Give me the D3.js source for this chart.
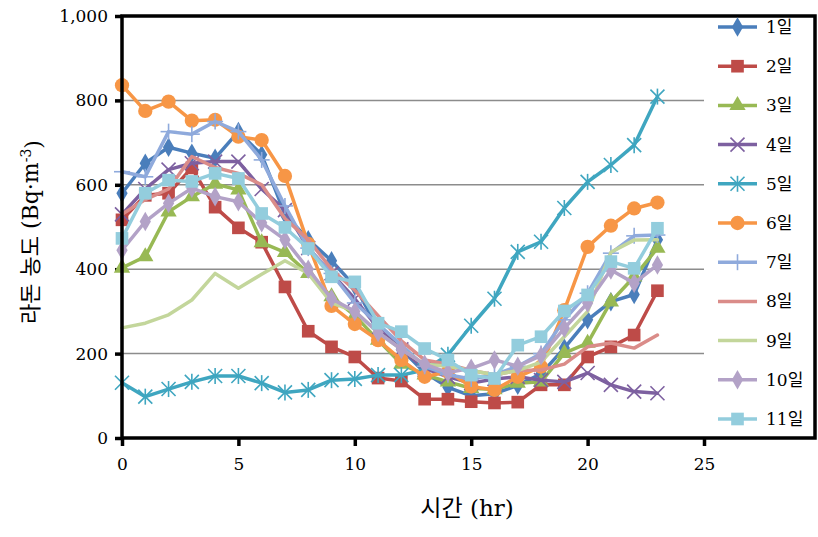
<!DOCTYPE html>
<html><head><meta charset="utf-8">
<script src="https://cdn.jsdelivr.net/npm/d3@7"></script>
<style>body{margin:0;background:#fff}svg{display:block}</style>
</head><body>
<svg id="c" width="818" height="537"></svg>
<script>
const hours = d3.range(0, 24);
const seriesNames = ["1일","2일","3일","4일","5일","6일","7일","8일","9일","10일","11일"];
const day1  = [580,651,689,675,663,726,671,530,470,420,360,260,210,155,120,100,105,125,152,213,280,323,340,470];
const day2  = [517,575,580,640,547,498,464,358,253,216,192,142,135,92,92,86,83,85,126,126,192,216,244,349];
const day3  = [403,430,536,572,602,588,463,440,390,335,290,232,175,150,133,118,115,130,133,201,225,323,382,450];
const day4  = [530,590,636,651,655,655,590,540,450,390,330,260,210,165,145,130,140,145,137,133,154,126,110,106];
const day5  = [131,98,116,133,147,147,130,108,114,137,140,149,149,161,197,266,330,441,465,545,607,647,694,809];
const day6  = [836,775,797,752,754,714,706,621,460,313,270,232,185,145,157,122,114,145,169,303,453,503,544,558];
const day7  = [631,619,726,720,750,726,659,550,450,390,320,270,220,170,150,140,150,170,200,280,343,438,479,481];
const day8  = [530,565,590,667,641,627,600,520,470,400,350,290,230,185,175,160,150,160,161,175,216,225,213,244];
const day9  = [261,272,292,327,390,355,388,420,390,320,300,250,210,175,170,160,150,160,180,240,300,440,469,470];
const day10 = [445,513,556,592,572,560,510,470,400,330,300,250,210,175,155,165,185,170,195,260,320,398,367,410];
const day11 = [473,580,611,608,627,615,532,499,449,382,370,272,252,212,185,149,141,220,240,301,339,418,402,497];
const seriesValues = [day1,day2,day3,day4,day5,day6,day7,day8,day9,day10,day11];
const colors = ["#4a7ebb","#be4b48","#98b954","#7d60a0","#3fa6c0","#f79646","#8faadc","#da8c89","#c3d69b","#b3a2c7","#93cddd"];
const markers = ["diamond","square","triangle","x","asterisk","circle","plus","none","none","diamond","square"];
const xTicks = [0,5,10,15,20,25];
const yTicks = [0,200,400,600,800,1000];

const svg = d3.select("#c");
const L = 122, T = 16, B = 438, R = 815, XR = 704;
const x = d3.scaleLinear().domain([0,25]).range([L, XR]);
const y = d3.scaleLinear().domain([0,1000]).range([B, T]);

svg.append("g").selectAll("line").data(yTicks.filter(v=>v>0&&v<1000)).join("line")
  .attr("x1", L).attr("x2", XR).attr("y1", d=>y(d)).attr("y2", d=>y(d))
  .attr("stroke", "#8c8c8c").attr("stroke-width", 1.5);

const serif = "'DejaVu Serif','Liberation Serif',serif";
const kserif = "'DejaVu Serif','Noto Sans CJK KR',serif";
const yAxis = d3.axisLeft(y).tickValues(yTicks).tickSize(7).tickPadding(7).tickFormat(d3.format(","));
const gy = svg.append("g").attr("transform", `translate(${L},0)`).call(yAxis);
const xAxis = d3.axisBottom(x).tickValues(xTicks).tickSize(8).tickPadding(12).tickFormat(d3.format("d"));
const gx = svg.append("g").attr("transform", `translate(0,${B})`).call(xAxis);
[gy, gx].forEach(g => {
  g.select(".domain").remove();
  g.selectAll(".tick line").attr("stroke", "#000").attr("stroke-width", 3.5);
  g.selectAll(".tick text").attr("fill", "#000").style("font-family", serif).style("font-size", "17px");
});

const line = d3.line().x((d,i)=>x(hours[i])).y(d=>y(d));
const sym = {
  diamond: d3.symbol().type(d3.symbolDiamond).size(110),
  square: d3.symbol().type(d3.symbolSquare).size(160),
  triangle: d3.symbol().type(d3.symbolTriangle).size(115),
  circle: d3.symbol().type(d3.symbolCircle).size(160)
};
function drawMarker(g, type, cx, cy, color) {
  if (type === "none") return;
  if (sym[type]) {
    g.append("path").attr("d", sym[type]()).attr("transform", `translate(${cx},${cy})`).attr("fill", color);
  } else {
    const s = 7;
    let segs = [];
    if (type === "x" || type === "asterisk") segs.push([-s,-s,s,s],[-s,s,s,-s]);
    if (type === "asterisk") segs.push([0,-s-1,0,s+1]);
    if (type === "plus") segs.push([-s-1,0,s+1,0],[0,-s-1,0,s+1]);
    segs.forEach(q => g.append("line").attr("x1", cx+q[0]).attr("y1", cy+q[1]).attr("x2", cx+q[2]).attr("y2", cy+q[3])
      .attr("stroke", color).attr("stroke-width", 1.6));
  }
}
seriesValues.forEach((vals, k) => {
  const g = svg.append("g");
  g.append("path").attr("d", line(vals)).attr("fill", "none").attr("stroke", colors[k])
    .attr("stroke-width", 3.5).attr("stroke-linejoin", "round").attr("stroke-linecap", "round");
  vals.forEach((v,i) => drawMarker(g, markers[k], x(hours[i]), y(v), colors[k]));
});

svg.append("rect").attr("x", L).attr("y", T).attr("width", R-L).attr("height", B-T)
  .attr("fill", "none").attr("stroke", "#000").attr("stroke-width", 3.5);

const lg = svg.append("g");
seriesNames.forEach((name, k) => {
  const cy = 27 + k*39.2;
  lg.append("line").attr("x1", 718).attr("x2", 757).attr("y1", cy).attr("y2", cy)
    .attr("stroke", colors[k]).attr("stroke-width", 3.5);
  drawMarker(lg, markers[k], 737.5, cy, colors[k]);
  lg.append("text").attr("x", 766).attr("y", cy).attr("dy", "0.35em").text(name)
    .style("font-family", kserif).style("font-size", "17px").attr("fill", "#000");
});

svg.append("text").attr("x", 467).attr("y", 508).attr("text-anchor", "middle").attr("dy", "0.35em")
  .style("font-family", kserif).style("font-size", "23px").text("시간 (hr)");
const yt = svg.append("text").attr("transform", "translate(30,232) rotate(-90)").attr("text-anchor", "middle").attr("dy", "0.35em")
  .style("font-family", kserif).style("font-size", "22px");
yt.append("tspan").text("라돈 농도 (Bq·m");
yt.append("tspan").attr("dy", "-0.45em").style("font-size", "14px").text("-3");
yt.append("tspan").attr("dy", "0.45em").text(")");
</script>
</body></html>
